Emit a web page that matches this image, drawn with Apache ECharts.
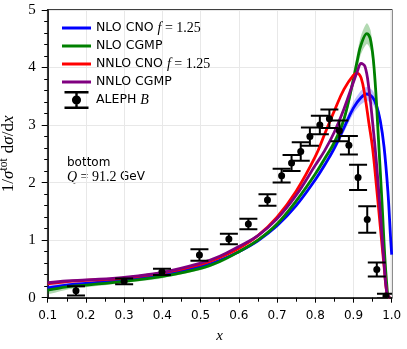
<!DOCTYPE html>
<html>
<head>
<meta charset="utf-8">
<script src="https://cdn.jsdelivr.net/npm/echarts@6/dist/echarts.min.js"></script>
<style>
  html, body { margin: 0; padding: 0; background: #fff; }
  #chart { width: 407px; height: 349px; }
</style>
</head>
<body>
<div id="chart"></div>
<script>
// theory curves
const blueX = [0.1, 0.15, 0.2, 0.3, 0.4, 0.5, 0.55, 0.6, 0.65, 0.7, 0.75, 0.8, 0.825, 0.85, 0.875, 0.9, 0.92, 0.935, 0.95, 0.96, 0.97, 0.98, 0.99, 0.997, 1.0]
const blueY = [0.17, 0.22, 0.25, 0.31, 0.40, 0.54, 0.65, 0.80, 0.99, 1.25, 1.60, 2.05, 2.31, 2.60, 2.95, 3.30, 3.48, 3.54, 3.48, 3.34, 3.08, 2.62, 1.85, 1.05, 0.75]
const blueErr = [0.05, 0.04, 0.03, 0.02, 0.02, 0.02, 0.02, 0.02, 0.02, 0.03, 0.03, 0.04, 0.05, 0.06, 0.08, 0.1, 0.12, 0.12, 0.12, 0.11, 0.1, 0.08, 0.06, 0.04, 0.04]

const greenX = [0.1, 0.15, 0.2, 0.3, 0.4, 0.5, 0.55, 0.6, 0.65, 0.7, 0.75, 0.8, 0.825, 0.85, 0.875, 0.9, 0.91, 0.92, 0.935, 0.945, 0.955, 0.965, 0.975, 0.983, 0.99]
const greenY = [0.13, 0.19, 0.22, 0.285, 0.37, 0.51, 0.63, 0.80, 1.0, 1.28, 1.68, 2.15, 2.42, 2.70, 3.10, 3.80, 4.12, 4.40, 4.59, 4.47, 3.90, 2.80, 1.60, 0.60, 0.0]
const greenErr = [0.06, 0.05, 0.04, 0.03, 0.03, 0.03, 0.03, 0.03, 0.03, 0.03, 0.04, 0.04, 0.05, 0.06, 0.08, 0.12, 0.14, 0.16, 0.18, 0.17, 0.14, 0.1, 0.06, 0.03, 0.01]

const redX = [0.1, 0.15, 0.2, 0.3, 0.4, 0.5, 0.55, 0.6, 0.65, 0.7, 0.75, 0.8, 0.825, 0.85, 0.875, 0.9, 0.91, 0.92, 0.93, 0.94, 0.95, 0.96, 0.97, 0.98, 0.988, 0.995]
const redY = [0.24, 0.28, 0.30, 0.34, 0.43, 0.58, 0.70, 0.86, 1.08, 1.40, 1.85, 2.45, 2.85, 3.25, 3.62, 3.87, 3.90, 3.82, 3.50, 3.05, 2.60, 1.95, 1.25, 0.55, 0.06, 0.0]

const purpleX = [0.1, 0.15, 0.2, 0.3, 0.4, 0.5, 0.55, 0.6, 0.65, 0.7, 0.75, 0.8, 0.825, 0.85, 0.875, 0.9, 0.91, 0.92, 0.93, 0.94, 0.95, 0.96, 0.97, 0.98, 0.988, 0.995]
const purpleY = [0.26, 0.29, 0.31, 0.355, 0.44, 0.60, 0.72, 0.89, 1.08, 1.37, 1.78, 2.30, 2.56, 2.88, 3.28, 3.75, 3.93, 4.07, 4.02, 3.65, 3.05, 2.35, 1.50, 0.60, 0.06, 0.0]

// ALEPH data
const alephX = [0.174, 0.30, 0.399, 0.497, 0.574, 0.625, 0.675, 0.712, 0.738, 0.762, 0.786, 0.812, 0.837, 0.863, 0.888, 0.912, 0.936, 0.961, 0.985]
const alephY = [0.12, 0.285, 0.45, 0.74, 1.02, 1.28, 1.70, 2.12, 2.34, 2.54, 2.80, 3.00, 3.11, 2.90, 2.65, 2.09, 1.36, 0.49, 0.03]
const alephErr = [0.08, 0.05, 0.055, 0.10, 0.09, 0.09, 0.10, 0.12, 0.14, 0.16, 0.16, 0.16, 0.16, 0.18, 0.16, 0.22, 0.23, 0.12, 0.04]

const names = ['NLO CNO f = 1.25', 'NLO CGMP', 'NNLO CNO f = 1.25', 'NNLO CGMP', 'ALEPH B']

const serif = 'Liberation Serif'
const sans = 'DejaVu Sans'

const chart = echarts.init(document.getElementById('chart'))

const zip = (xs, ys) => xs.map((x, i) => [x, ys[i]])

const curve = (name, xs, ys, color) => ({
  name,
  type: 'line',
  data: zip(xs, ys),
  symbol: 'none',
  smooth: 0.4,
  clip: true,
  lineStyle: { color, width: 2.8 },
  itemStyle: { color },
  z: 3
})

const band = (xs, ys, err, color) => ({
  type: 'custom',
  silent: true,
  clip: true,
  z: 2,
  data: [[xs[0], ys[0]]],
  renderItem: (params, api) => {
    const up = xs.map((x, i) => api.coord([x, ys[i] + err[i]]))
    const lo = xs.map((x, i) => api.coord([x, Math.max(ys[i] - err[i], 0)])).reverse()
    return {
      type: 'polygon',
      shape: { points: up.concat(lo), smooth: 0.25 },
      style: { fill: color }
    }
  }
})

const lineIcon = 'path://M0,0 H29 V3 H0 Z'

const option = {
  animation: false,
  grid: {
    left: 47.7, right: 15.3, top: 10, bottom: 51.3,
    outerBoundsMode: 'none', containLabel: false,
    show: true, borderColor: '#000', borderWidth: 1.5
  },
  xAxis: {
    type: 'value', min: 0.1, max: 1.0, interval: 0.1,
    name: 'x', nameLocation: 'middle', nameGap: 31,
    nameTextStyle: { fontFamily: serif, fontStyle: 'italic', fontSize: 15, color: '#000' },
    axisLine: { onZero: false, lineStyle: { color: '#000', width: 1.5 } },
    axisTick: { length: 5, lineStyle: { color: '#000', width: 1 } },
    minorTick: { show: true, splitNumber: 2, length: 4, lineStyle: { color: '#000', width: 1 } },
    axisLabel: { fontFamily: sans, fontSize: 12, color: '#000', margin: 12, formatter: v => v.toFixed(1) },
    splitLine: { show: true, lineStyle: { color: '#e8e8e8', width: 1 } }
  },
  yAxis: {
    type: 'value', min: 0, max: 5, interval: 1,
    name: '1/{i|σ}{sup|tot} d{i|σ}/d{i|x}', nameLocation: 'middle', nameGap: 23,
    nameTextStyle: {
      fontFamily: serif, fontSize: 17, color: '#000',
      rich: {
        i: { fontFamily: serif, fontStyle: 'italic', fontSize: 17, color: '#000' },
        sup: { fontFamily: serif, fontSize: 11.5, color: '#000', padding: [0, 1, 10, 0] }
      }
    },
    axisLine: { lineStyle: { color: '#000', width: 1.5 } },
    axisTick: { length: 6, lineStyle: { color: '#000', width: 1 } },
    minorTick: { show: true, splitNumber: 5, length: 3.5, lineStyle: { color: '#000', width: 1 } },
    axisLabel: { fontFamily: serif, fontSize: 15, color: '#000', margin: 12 },
    splitLine: { show: true, lineStyle: { color: '#e8e8e8', width: 1 } }
  },
  legend: {
    orient: 'vertical', left: 57, top: 14,
    itemWidth: 29, itemHeight: 18, itemGap: 0,
    data: [
      { name: names[0], icon: lineIcon }, { name: names[1], icon: lineIcon },
      { name: names[2], icon: lineIcon }, { name: names[3], icon: lineIcon },
      { name: names[4], icon: 'path://M0,0 H20 V2 H0 Z M9,2 H11 V13 H9 Z M0,13 H20 V15 H0 Z M13.8,7.5 A3.8,3.8 0 1 1 6.2,7.5 A3.8,3.8 0 1 1 13.8,7.5 Z' }
    ],
    formatter: n => {
      if (n === names[0]) return '{t|NLO CNO }{i|f}{s| = 1.25}'
      if (n === names[2]) return '{t|NNLO CNO }{i|f}{s| = 1.25}'
      if (n === names[4]) return '{t|ALEPH }{i|B}'
      return '{t|' + n + '}'
    },
    textStyle: {
      lineHeight: 18,
      rich: {
        t: { fontFamily: sans, fontSize: 12.5, color: '#000', lineHeight: 18 },
        i: { fontFamily: serif, fontStyle: 'italic', fontSize: 14, color: '#000', lineHeight: 18 },
        s: { fontFamily: serif, fontSize: 14, color: '#000', lineHeight: 18 }
      }
    }
  },
  graphic: [{
    type: 'text', left: 67, top: 157,
    style: {
      text: '{t|bottom}\n{i|Q}{s| = 91.2 }{t|GeV}',
      rich: {
        t: { fontFamily: sans, fontSize: 12, fill: '#000', lineHeight: 14 },
        i: { fontFamily: serif, fontStyle: 'italic', fontSize: 14, fill: '#000', lineHeight: 14 },
        s: { fontFamily: serif, fontSize: 14, fill: '#000', lineHeight: 14 }
      }
    }
  }],
  series: [
    band(greenX, greenY, greenErr, 'rgba(0,128,0,0.3)'),
    band(blueX, blueY, blueErr, 'rgba(0,0,255,0.25)'),
    curve(names[0], blueX, blueY, '#0000ff'),
    curve(names[1], greenX, greenY, '#008000'),
    curve(names[2], redX, redY, '#ff0000'),
    curve(names[3], purpleX, purpleY, '#800080'),
    {
      name: names[4],
      type: 'custom',
      z: 5,
      clip: true,
      itemStyle: { color: '#000' },
      encode: { x: 0, y: 1 },
      data: alephX.map((x, i) => [x, alephY[i], alephErr[i]]),
      renderItem: (params, api) => {
        const x = api.value(0), y = api.value(1), e = api.value(2)
        const c = api.coord([x, y])
        const t = api.coord([x, y + e])
        const b = api.coord([x, y - e])
        const w = 9
        const st = { stroke: '#000', lineWidth: 2 }
        return {
          type: 'group',
          children: [
            { type: 'line', shape: { x1: c[0], y1: t[1], x2: c[0], y2: b[1] }, style: st },
            { type: 'line', shape: { x1: c[0] - w, y1: t[1], x2: c[0] + w, y2: t[1] }, style: st },
            { type: 'line', shape: { x1: c[0] - w, y1: b[1], x2: c[0] + w, y2: b[1] }, style: st },
            { type: 'circle', shape: { cx: c[0], cy: c[1], r: 3.5 }, style: { fill: '#000' } }
          ]
        }
      }
    }
  ]
}

chart.setOption(option)
window.addEventListener('resize', () => chart.resize())
</script>
</body>
</html>
